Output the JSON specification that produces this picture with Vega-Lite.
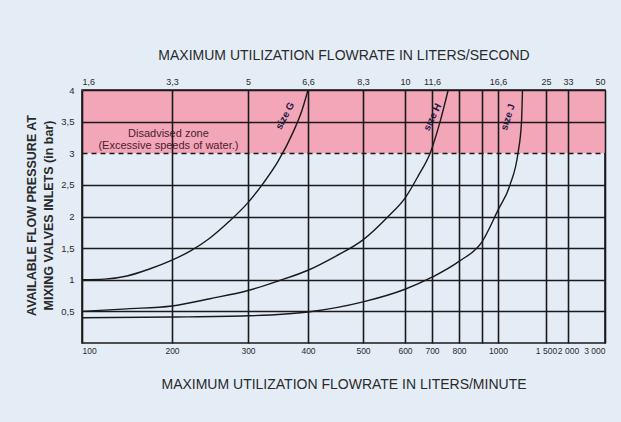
{
  "$schema": "https://vega.github.io/schema/vega-lite/v6.json",
  "width": 523,
  "height": 253,
  "autosize": {"type": "none"},
  "padding": {"left": 82, "top": 90, "right": 16, "bottom": 79},
  "background": "#e4edf6",
  "config": {
    "view": {"stroke": "#1a1a1a", "strokeWidth": 1.6},
    "font": "Liberation Sans",
    "axis": {"labelColor": "#2a2a2a", "titleColor": "#2a2a2a", "labelOverlap": false}
  },
  "datasets": {
    "curves": [
      {"size": "G", "flow": 100, "pressure": 1.0},
      {"size": "G", "flow": 125, "pressure": 1.01},
      {"size": "G", "flow": 150, "pressure": 1.06},
      {"size": "G", "flow": 175, "pressure": 1.17},
      {"size": "G", "flow": 200, "pressure": 1.31},
      {"size": "G", "flow": 225, "pressure": 1.46},
      {"size": "G", "flow": 250, "pressure": 1.66},
      {"size": "G", "flow": 275, "pressure": 1.92},
      {"size": "G", "flow": 300, "pressure": 2.22},
      {"size": "G", "flow": 325, "pressure": 2.52},
      {"size": "G", "flow": 350, "pressure": 2.87},
      {"size": "G", "flow": 375, "pressure": 3.33},
      {"size": "G", "flow": 390, "pressure": 3.68},
      {"size": "G", "flow": 400, "pressure": 4.0},
      {"size": "H", "flow": 100, "pressure": 0.5},
      {"size": "H", "flow": 150, "pressure": 0.54},
      {"size": "H", "flow": 200, "pressure": 0.585},
      {"size": "H", "flow": 250, "pressure": 0.7},
      {"size": "H", "flow": 300, "pressure": 0.83},
      {"size": "H", "flow": 350, "pressure": 0.98},
      {"size": "H", "flow": 400, "pressure": 1.15},
      {"size": "H", "flow": 450, "pressure": 1.37},
      {"size": "H", "flow": 500, "pressure": 1.63},
      {"size": "H", "flow": 560, "pressure": 2.0},
      {"size": "H", "flow": 600, "pressure": 2.29},
      {"size": "H", "flow": 650, "pressure": 2.65},
      {"size": "H", "flow": 693, "pressure": 3.0},
      {"size": "H", "flow": 730, "pressure": 3.5},
      {"size": "H", "flow": 760, "pressure": 4.0},
      {"size": "J", "flow": 100, "pressure": 0.4},
      {"size": "J", "flow": 200, "pressure": 0.41},
      {"size": "J", "flow": 300, "pressure": 0.43},
      {"size": "J", "flow": 400, "pressure": 0.49},
      {"size": "J", "flow": 500, "pressure": 0.65},
      {"size": "J", "flow": 600, "pressure": 0.85},
      {"size": "J", "flow": 700, "pressure": 1.04},
      {"size": "J", "flow": 800, "pressure": 1.29},
      {"size": "J", "flow": 900, "pressure": 1.6},
      {"size": "J", "flow": 1000, "pressure": 2.1},
      {"size": "J", "flow": 1125, "pressure": 2.5},
      {"size": "J", "flow": 1208, "pressure": 3.0},
      {"size": "J", "flow": 1245, "pressure": 3.5},
      {"size": "J", "flow": 1255, "pressure": 4.0}
    ],
    "labels": [
      {"label": "size G", "flow": 362, "pressure": 3.59},
      {"label": "size H", "flow": 702, "pressure": 3.57},
      {"label": "size J", "flow": 1104, "pressure": 3.57}
    ]
  },
  "encoding": {
    "y": {
      "field": "pressure", "type": "quantitative",
      "scale": {"domain": [0, 4], "nice": false, "zero": false},
      "axis": {
        "values": [0.5, 1, 1.5, 2, 2.5, 3, 3.5, 4],
        "labelExpr": "replace(format(datum.value, '~g'), '.', ',')",
        "grid": true, "gridColor": "#1a1a1a", "gridWidth": 1.6, "gridOpacity": 1,
        "gridDash": {"condition": {"test": "datum.value === 3", "value": [5, 4]}, "value": []},
        "domain": false, "ticks": false, "zindex": 1,
        "labelFontSize": 9.5, "labelPadding": 8,
        "title": ["AVAILABLE FLOW PRESSURE AT", "MIXING VALVES INLETS (in bar)"],
        "titleFontSize": 12.5, "titleFontWeight": "bold", "titleLineHeight": 17,
        "titleAngle": -90, "titleX": -51, "titleY": 125, "titleAlign": "center", "titleBaseline": "middle"
      }
    }
  },
  "layer": [
    {
      "data": {"values": [{"flow": 100, "flow_end": 3000, "pressure": 3, "pressure_top": 4}]},
      "mark": {"type": "rect", "fill": "#f4a6b9"},
      "encoding": {
        "x": {
          "field": "flow", "type": "quantitative",
          "scale": {"zero": false, "domain": [100, 200, 300, 400, 500, 600, 700, 800, 900, 1000, 1500, 2000, 3000], "range": [0, 90, 166, 226, 281, 323, 350, 377, 400, 416, 464, 486, 523]},
          "axis": {
            "orient": "top",
            "values": [100, 200, 300, 400, 500, 600, 700, 1000, 1500, 2000, 3000],
            "labelExpr": "datum.value==100?'1,6':datum.value==200?'3,3':datum.value==300?'5':datum.value==400?'6,6':datum.value==500?'8,3':datum.value==600?'10':datum.value==700?'11,6':datum.value==1000?'16,6':datum.value==1500?'25':datum.value==2000?'33':'50'",
            "grid": false, "domain": false, "ticks": false,
            "labelFontSize": 9, "labelPadding": 4, "labelBaseline": "bottom",
            "title": "MAXIMUM UTILIZATION FLOWRATE IN LITERS/SECOND",
            "titleFontSize": 14, "titleFontWeight": "normal",
            "titleY": -35, "titleBaseline": "middle"
          }
        },
        "x2": {"field": "flow_end"},
        "y2": {"field": "pressure_top"}
      }
    },
    {
      "data": {"name": "curves"},
      "mark": {"type": "line", "color": "#1a1a1a", "strokeWidth": 1.4, "interpolate": "monotone"},
      "encoding": {
        "x": {
          "field": "flow", "type": "quantitative",
          "scale": {"zero": false, "domain": [100, 200, 300, 400, 500, 600, 700, 800, 900, 1000, 1500, 2000, 3000], "range": [0, 90, 166, 226, 281, 323, 350, 377, 400, 416, 464, 486, 523]},
          "axis": {
            "orient": "bottom",
            "values": [100, 200, 300, 400, 500, 600, 700, 800, 900, 1000, 1500, 2000, 3000],
            "labelExpr": "datum.value==900?'':datum.value==1500?'1 500':datum.value==2000?'2 000':datum.value==3000?'3 000':''+datum.value",
            "grid": true, "gridColor": "#1a1a1a", "gridWidth": 1.6, "gridOpacity": 1,
            "domain": false, "ticks": false, "zindex": 1,
            "labelFontSize": 8.5, "labelPadding": 3, "labelBaseline": "top",
            "title": "MAXIMUM UTILIZATION FLOWRATE IN LITERS/MINUTE",
            "titleFontSize": 14, "titleFontWeight": "normal",
            "titleY": 41, "titleBaseline": "middle"
          }
        },
        "detail": {"field": "size", "type": "nominal"}
      }
    },
    {
      "data": {"name": "labels"},
      "transform": [{"filter": "datum.label == 'size G'"}],
      "mark": {"type": "text", "angle": 298, "fontSize": 10, "fontWeight": "bold", "color": "#1c1c4a", "align": "center", "baseline": "middle"},
      "encoding": {
        "x": {"field": "flow", "type": "quantitative", "scale": {"zero": false, "domain": [100, 200, 300, 400, 500, 600, 700, 800, 900, 1000, 1500, 2000, 3000], "range": [0, 90, 166, 226, 281, 323, 350, 377, 400, 416, 464, 486, 523]}, "axis": null},
        "text": {"field": "label"}
      }
    },
    {
      "data": {"name": "labels"},
      "transform": [{"filter": "datum.label == 'size H'"}],
      "mark": {"type": "text", "angle": 296, "fontSize": 10, "fontWeight": "bold", "color": "#1c1c4a", "align": "center", "baseline": "middle"},
      "encoding": {
        "x": {"field": "flow", "type": "quantitative", "scale": {"zero": false, "domain": [100, 200, 300, 400, 500, 600, 700, 800, 900, 1000, 1500, 2000, 3000], "range": [0, 90, 166, 226, 281, 323, 350, 377, 400, 416, 464, 486, 523]}, "axis": null},
        "text": {"field": "label"}
      }
    },
    {
      "data": {"name": "labels"},
      "transform": [{"filter": "datum.label == 'size J'"}],
      "mark": {"type": "text", "angle": 288, "fontSize": 10, "fontWeight": "bold", "color": "#1c1c4a", "align": "center", "baseline": "middle"},
      "encoding": {
        "x": {"field": "flow", "type": "quantitative", "scale": {"zero": false, "domain": [100, 200, 300, 400, 500, 600, 700, 800, 900, 1000, 1500, 2000, 3000], "range": [0, 90, 166, 226, 281, 323, 350, 377, 400, 416, 464, 486, 523]}, "axis": null},
        "text": {"field": "label"}
      }
    },
    {
      "data": {"values": [{"note": "Disadvised zone\n(Excessive speeds of water.)", "flow": 196, "pressure": 3.31}]},
      "mark": {"type": "text", "fontSize": 11, "color": "#4a2030", "align": "center", "baseline": "middle", "lineBreak": "\n", "lineHeight": 12},
      "encoding": {
        "x": {"field": "flow", "type": "quantitative", "scale": {"zero": false, "domain": [100, 200, 300, 400, 500, 600, 700, 800, 900, 1000, 1500, 2000, 3000], "range": [0, 90, 166, 226, 281, 323, 350, 377, 400, 416, 464, 486, 523]}, "axis": null},
        "text": {"field": "note"}
      }
    }
  ],
  "resolve": {"axis": {"x": "independent"}}
}
